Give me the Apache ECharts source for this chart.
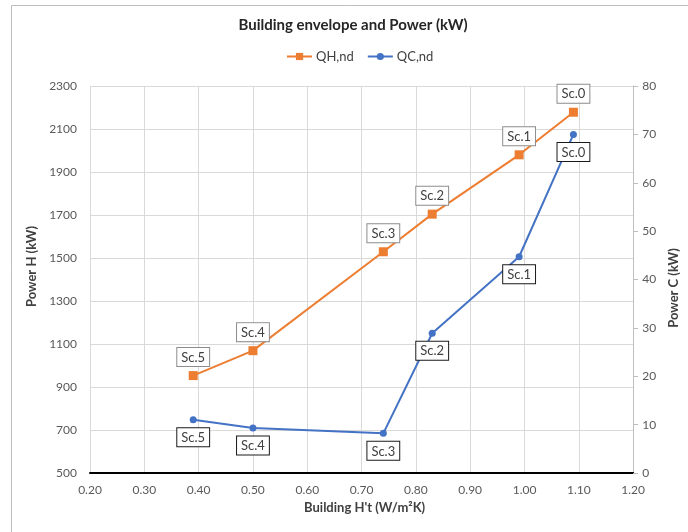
<!DOCTYPE html>
<html>
<head>
<meta charset="utf-8">
<style>
  html, body { margin: 0; padding: 0; background: #fff; }
  #chart { width: 688px; height: 532px; }
</style>
<script src="https://cdn.jsdelivr.net/npm/echarts@6/dist/echarts.min.js"></script>
</head>
<body>
<div id="chart"></div>
<script>
// Scenario names and building transmittance H't (W/m²K)
const scenarios = ['Sc.0', 'Sc.1', 'Sc.2', 'Sc.3', 'Sc.4', 'Sc.5'];
const htValues = [1.09, 0.99, 0.83, 0.74, 0.50, 0.39];
// Heating power QH,nd (kW), left axis
const qhValues = [2178, 1980, 1704, 1529, 1069, 953];
// Cooling power QC,nd (kW), right axis
const qcValues = [70.0, 44.7, 28.9, 8.2, 9.3, 11.0];

const FONT = 'Lato, "Open Sans", sans-serif';

function pairs(ys) {
  return htValues.map((x, i) => ({ value: [x, ys[i]], name: scenarios[i] }));
}

const labelBase = {
  show: true,
  formatter: p => p.name,
  fontFamily: FONT,
  fontSize: 13,
  color: '#404040',
  backgroundColor: '#fff',
  borderWidth: 1,
  padding: [3, 4, 2, 4],
  distance: 5
};

const chart = echarts.init(document.getElementById('chart'));
chart.setOption({
  animation: false,
  backgroundColor: '#fff',
  textStyle: { fontFamily: FONT },
  title: {
    text: 'Building envelope and Power (kW)',
    left: 353,
    top: 18,
    textAlign: 'center',
    padding: 0,
    textStyle: { fontFamily: FONT, fontSize: 15, fontWeight: 'bold', color: '#262626' }
  },
  legend: {
    left: 286,
    top: 50,
    itemWidth: 25,
    itemHeight: 9,
    itemGap: 13,
    padding: 0,
    textStyle: { fontFamily: FONT, fontSize: 13, color: '#404040', padding: [0, 0, 0, -1] },
    data: ['QH,nd', 'QC,nd']
  },
  graphic: [{
    type: 'rect',
    silent: true,
    shape: { x: 11.5, y: 5.5, width: 720, height: 600 },
    style: { fill: 'none', stroke: '#bdbdbd', lineWidth: 1 }
  }],
  grid: { left: 90, right: 54, top: 86, bottom: 59, containLabel: false },
  xAxis: {
    type: 'value',
    min: 0.2,
    max: 1.2,
    interval: 0.1,
    name: "Building H't (W/m²K)",
    nameLocation: 'middle',
    nameGap: 23,
    nameTextStyle: { fontFamily: FONT, fontSize: 13, fontWeight: 'bold', color: '#404040', padding: [0, 0, 0, 6] },
    axisLine: { show: true, lineStyle: { color: '#000', width: 2 } },
    axisTick: { show: false },
    axisLabel: {
      margin: 11,
      fontFamily: FONT, fontSize: 12, color: '#595959',
      formatter: v => v.toFixed(2)
    },
    splitLine: { show: true, lineStyle: { color: '#d9d9d9', width: 1 } }
  },
  yAxis: [{
    type: 'value',
    min: 500,
    max: 2300,
    interval: 200,
    position: 'left',
    name: 'Power H (kW)',
    nameLocation: 'middle',
    nameRotate: 90,
    nameGap: 45,
    nameTextStyle: { fontFamily: FONT, fontSize: 13, fontWeight: 'bold', color: '#404040', padding: [0, 0, 0, 26] },
    axisLine: { show: false },
    axisTick: { show: false },
    axisLabel: { margin: 13, fontFamily: FONT, fontSize: 12, color: '#595959', formatter: v => String(v) },
    splitLine: { show: true, lineStyle: { color: '#d9d9d9', width: 1 } }
  }, {
    type: 'value',
    min: 0,
    max: 80,
    interval: 10,
    position: 'right',
    name: 'Power C (kW)',
    nameLocation: 'middle',
    nameRotate: 90,
    nameGap: 33,
    nameTextStyle: { fontFamily: FONT, fontSize: 13, fontWeight: 'bold', color: '#404040', padding: [0, 17, 0, 0] },
    axisLine: { show: true, lineStyle: { color: '#bfbfbf', width: 1 } },
    axisTick: { show: true, inside: false, length: 5, lineStyle: { color: '#bfbfbf' } },
    axisLabel: { margin: 9, fontFamily: FONT, fontSize: 12, color: '#595959' },
    splitLine: { show: false }
  }],
  series: [{
    name: 'QH,nd',
    type: 'line',
    yAxisIndex: 0,
    data: pairs(qhValues),
    symbol: 'rect',
    symbolSize: 9,
    lineStyle: { color: '#ED7D31', width: 2 },
    itemStyle: { color: '#ED7D31' },
    label: Object.assign({}, labelBase, { position: 'top', borderColor: '#8c8c8c' }),
    z: 3
  }, {
    name: 'QC,nd',
    type: 'line',
    yAxisIndex: 1,
    data: pairs(qcValues),
    symbol: 'circle',
    symbolSize: 7,
    lineStyle: { color: '#4472C4', width: 2 },
    itemStyle: { color: '#4472C4' },
    label: Object.assign({}, labelBase, { position: 'bottom', borderColor: '#1a1a1a' }),
    z: 3
  }]
});
</script>
</body>
</html>
